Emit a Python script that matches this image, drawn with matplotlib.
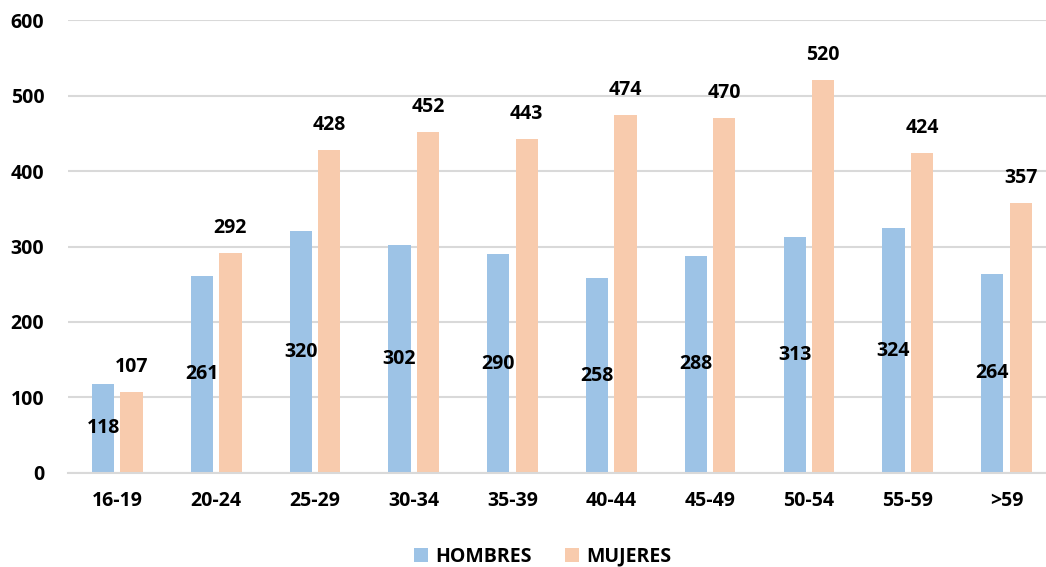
import matplotlib.pyplot as plt
import numpy as np

# data
grupos = ['16-19', '20-24', '25-29', '30-34', '35-39', '40-44', '45-49', '50-54', '55-59', '>59']
hombres = [118, 261, 320, 302, 290, 258, 288, 313, 324, 264]
mujeres = [107, 292, 428, 452, 443, 474, 470, 520, 424, 357]

plt.rcParams['font.family'] = ['Open Sans', 'DejaVu Sans']
fs = 14

fig = plt.figure(figsize=(10.46, 5.67), dpi=100)
ax = fig.add_axes([0.065, 0.1658, 0.935, 0.7989])

x = np.arange(len(grupos))
w = 0.225
off = 0.144
b1 = ax.bar(x - off, hombres, w, color='#9DC3E6', label='HOMBRES', zorder=2)
b2 = ax.bar(x + off, mujeres, w, color='#F8CBAD', label='MUJERES', zorder=2)

# hombres labels in the middle of the bar, mujeres above
for xi, v in zip(x, hombres):
    ax.text(xi - off, v / 2, str(v), ha='center', va='center',
            fontsize=fs, fontweight='bold', color='black', zorder=3)
for xi, v in zip(x, mujeres):
    ax.annotate(str(v), (xi + off, v), xytext=(0, 18), textcoords='offset points',
                ha='center', va='center', fontsize=fs, fontweight='bold', color='black')

ax.set_ylim(0, 600)
ax.set_xlim(-0.5, 9.4)
ax.set_yticks(range(0, 601, 100))
ax.set_xticks(x)
ax.set_xticklabels(grupos)
ax.yaxis.grid(True, color='#D9D9D9', linewidth=1.5, zorder=0)
ax.set_axisbelow(True)
for s in ['top', 'right', 'left']:
    ax.spines[s].set_visible(False)
ax.spines['bottom'].set_color('#D9D9D9')
ax.spines['bottom'].set_linewidth(1.5)
ax.tick_params(axis='both', length=0, labelsize=fs)
ax.tick_params(axis='y', pad=17)
ax.tick_params(axis='x', pad=13)
for lab in ax.get_xticklabels() + ax.get_yticklabels():
    lab.set_fontweight('bold')

fig.legend(handles=[b1, b2], loc='center', bbox_to_anchor=(0.519, 0.018), ncol=2,
           frameon=False, prop={'size': fs, 'weight': 'bold'},
           handlelength=0.7, handleheight=0.7, columnspacing=1.7, handletextpad=0.4)

fig.savefig('out.png', dpi=100)
